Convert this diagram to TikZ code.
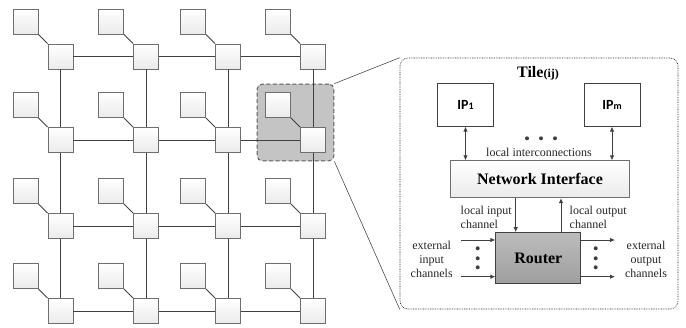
\documentclass[tikz,border=0pt]{standalone}
\usepackage{fontspec}
\setmainfont{Liberation Serif}
\newfontfamily\ipfont{Carlito}
\usepackage{tikz}
\usetikzlibrary{arrows.meta,fit,backgrounds}
\definecolor{edge}{HTML}{404040}
\definecolor{frame}{HTML}{6E6E6E}
\definecolor{shade}{HTML}{C4C4C4}
\tikzset{
  link/.style={draw=edge, line width=0.8pt},
  core/.style={draw=frame, line width=0.8pt, top color=white, bottom color=black!8,
    minimum size=25pt, inner sep=0pt},
  zoomhl/.style={draw=black!65, dash pattern=on 4pt off 2.5pt, line width=0.9pt,
    fill=shade, rounded corners=5pt, inner sep=8pt},
  zoomline/.style={draw=black!70, line width=0.6pt},
  tilebox/.style={draw=black!85, dash pattern=on 0.8pt off 0.9pt, line width=0.6pt,
    rounded corners=8pt},
  ipbox/.style={draw=edge, line width=0.8pt, fill=white, minimum width=56pt,
    minimum height=43pt, inner sep=0pt, font=\ipfont\bfseries},
  nibox/.style={draw=frame, line width=0.8pt, top color=white, bottom color=black!8,
    minimum width=179pt, minimum height=37pt, font=\fontsize{16}{16}\selectfont\bfseries},
  rtbox/.style={draw=edge, line width=0.8pt, top color=black!26, bottom color=black!38,
    minimum width=85pt, minimum height=51pt, font=\fontsize{16}{16}\selectfont\bfseries},
  arr/.style={draw=edge, line width=0.8pt, -{Latex[length=5pt,width=4.5pt]}},
  biarr/.style={draw=edge, line width=0.8pt, {Latex[length=5pt,width=4.5pt]}-{Latex[length=5pt,width=4.5pt]}},
  lab/.style={text=black!85, inner sep=0pt, font=\fontsize{12}{14}\selectfont},
  every node/.style={text=black}
}

\begin{document}
\begin{tikzpicture}[x=1pt,y=-1pt]
  \useasboundingbox (0,0) rectangle (686,327);

  % 4x4 mesh: router with its core up-left
  \foreach \x [count=\j] in {60.5,146,228,313}
    \foreach \y [count=\i] in {56.5,140,226,311} {
      \node[core] (r-\i-\j) at (\x,\y) {};
      \node[core] (c-\i-\j) at (\x-35,\y-35) {};
      \draw[link] (c-\i-\j) -- (r-\i-\j);
    }
  \foreach \i in {1,...,4}
    \foreach \j/\k in {1/2,2/3,3/4} {
      \draw[link] (r-\i-\j) -- (r-\i-\k);
      \draw[link] (r-\j-\i) -- (r-\k-\i);
    }

  % highlighted tile
  \begin{scope}[on background layer]
    \node[zoomhl, fit=(c-2-4)(r-2-4)] (hl) {};
  \end{scope}

  % zoomed tile
  \node[tilebox, minimum width=278pt, minimum height=251pt] (tile) at (539,183.5) {};
  \draw[zoomline] (hl.north east) -- (tile.north west);
  \draw[zoomline] (hl.south east) -- (tile.south west);

  \node (ttl) at (538,73) {\fontsize{16}{16}\selectfont\bfseries Tile\fontsize{12}{12}\selectfont(ij)};

  \node[ipbox] (ip1) at (465.5,104.7) {\fontsize{14}{14}\selectfont IP\fontsize{10}{10}\selectfont 1};
  \node[ipbox] (ipm) at (612,104.7) {\fontsize{14}{14}\selectfont IP\fontsize{10}{10}\selectfont m};
  \node[nibox] (ni) at (540,179.3) {Network Interface};
  \node[rtbox] (rtr) at (538.3,258) {Router};

  % cores <-> interface
  \draw[biarr] (ip1.south) -- (ip1.south |- ni.north);
  \draw[biarr] (ipm.south) -- (ipm.south |- ni.north);
  \foreach \xx in {527,541,555}
    \fill[edge] (\xx,138.3) circle[radius=2pt];
  \node[lab] (lic) at (539,152) {local interconnections};

  % interface <-> router
  \draw[arr] ([xshift=-24.3pt]ni.south) -- ([xshift=-24.3pt]ni.south |- rtr.north);
  \draw[arr] ([xshift=21pt]ni.south |- rtr.north) -- ([xshift=21pt]ni.south);
  \node[lab, align=left, anchor=west] (lin) at (460.5,217) {local input\\channel};
  \node[lab, align=left, anchor=west] (lout) at (569.5,217) {local output\\channel};

  % external channels
  \coordinate (ei1) at (461,240);
  \coordinate (ei2) at (461,276.7);
  \coordinate (eo1) at (615,240);
  \coordinate (eo2) at (615,276.7);
  \draw[arr] (ei1) -- (ei1 -| rtr.west);
  \draw[arr] (ei2) -- (ei2 -| rtr.west);
  \draw[arr] (eo1 -| rtr.east) -- (eo1);
  \draw[arr] (eo2 -| rtr.east) -- (eo2);
  \foreach \yy in {248.3,258.3,267.3} {
    \fill[edge] (477.7,\yy) circle[radius=2pt];
    \fill[edge] (595.7,\yy) circle[radius=2pt];
  }
  \node[lab, align=center] (ein) at (431.7,259.5) {external\\input\\channels};
  \node[lab, align=center] (eout) at (646,259.5) {external\\output\\channels};
\end{tikzpicture}
\end{document}
